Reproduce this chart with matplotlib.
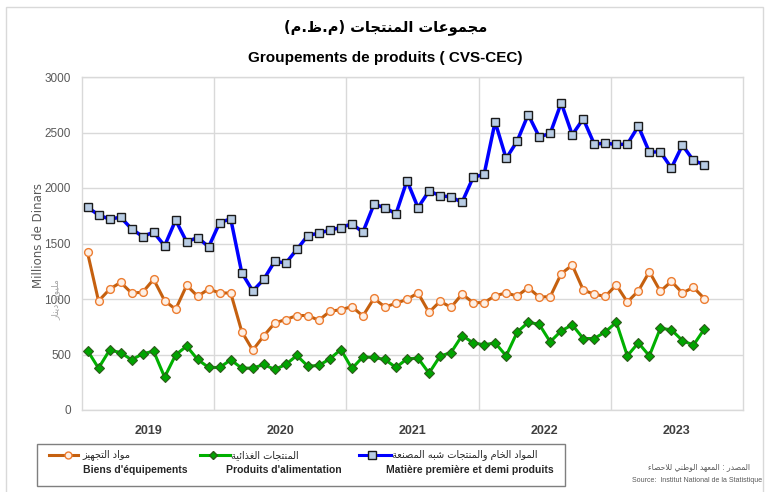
import matplotlib
matplotlib.use('Agg')
import matplotlib.pyplot as plt
from matplotlib.lines import Line2D
from matplotlib.patches import Rectangle

# monthly data, Jan 2019 .. Sep 2023 (millions de dinars)
years = ['2019', '2020', '2021', '2022', '2023']

matiere = [1826, 1758, 1719, 1737, 1632, 1563, 1602, 1479, 1710, 1515, 1554, 1470,
           1689, 1722, 1237, 1072, 1177, 1341, 1323, 1446, 1572, 1593, 1620, 1644,
           1677, 1602, 1853, 1823, 1767, 2066, 1823, 1973, 1931, 1919, 1871, 2096,
           2123, 2596, 2266, 2422, 2662, 2461, 2491, 2767, 2479, 2623, 2395, 2404,
           2392, 2395, 2557, 2323, 2326, 2180, 2386, 2248, 2210]

biens = [1419, 982, 1087, 1150, 1054, 1060, 1177, 985, 907, 1123, 1024, 1090,
         1054, 1054, 707, 539, 668, 784, 815, 851, 851, 808, 889, 904,
         931, 847, 1006, 928, 961, 997, 1054, 880, 979, 925, 1045, 967,
         967, 1030, 1054, 1027, 1102, 1018, 1021, 1228, 1305, 1081, 1042, 1024,
         1126, 973, 1072, 1246, 1069, 1159, 1054, 1105, 1003]

alim = [536, 377, 539, 518, 452, 506, 530, 296, 497, 575, 455, 383,
        383, 452, 377, 377, 410, 365, 410, 491, 395, 401, 461, 545,
        374, 479, 473, 455, 383, 461, 467, 332, 485, 518, 671, 605,
        587, 605, 488, 701, 790, 772, 614, 713, 767, 644, 644, 704,
        790, 488, 605, 488, 737, 722, 626, 584, 731]

title_ar = 'مجموعات المنتجات (م.ظ.م)'
title_fr = 'Groupements de produits ( CVS-CEC)'
lab_ar = ['مواد التجهيز', 'المنتجات الغذائية', 'المواد الخام والمنتجات شبه المصنعة']
lab_fr = ["Biens d'équipements", "Produits d'alimentation", 'Matière première et demi produits']
src_ar = 'المصدر : المعهد الوطني للاحصاء'
src_fr = 'Source:  Institut National de la Statistique'
ylab_ar = 'مليون دينار'

# minimal arabic shaping (presentation forms) + right-to-left order
DUAL = {0x0626: 0xFE89, 0x0628: 0xFE8F, 0x062A: 0xFE95, 0x062B: 0xFE99, 0x062C: 0xFE9D,
        0x062D: 0xFEA1, 0x062E: 0xFEA5, 0x0633: 0xFEB1, 0x0634: 0xFEB5, 0x0635: 0xFEB9,
        0x0636: 0xFEBD, 0x0637: 0xFEC1, 0x0638: 0xFEC5, 0x0639: 0xFEC9, 0x063A: 0xFECD,
        0x0641: 0xFED1, 0x0642: 0xFED5, 0x0643: 0xFED9, 0x0644: 0xFEDD, 0x0645: 0xFEE1,
        0x0646: 0xFEE5, 0x0647: 0xFEE9, 0x064A: 0xFEF1}
RIGHT = {0x0622: 0xFE81, 0x0623: 0xFE83, 0x0624: 0xFE85, 0x0625: 0xFE87, 0x0627: 0xFE8D,
         0x0629: 0xFE93, 0x062F: 0xFEA9, 0x0630: 0xFEAB, 0x0631: 0xFEAD, 0x0632: 0xFEAF,
         0x0648: 0xFEED, 0x0649: 0xFEEF}


def ar(s):
    units = []
    i = 0
    while i < len(s):
        c = s[i]
        if c == 'ل' and i + 1 < len(s) and s[i + 1] == 'ا':
            units.append(('LA', 'R'))
            i += 2
            continue
        t = 'D' if ord(c) in DUAL else ('R' if ord(c) in RIGHT else 'N')
        units.append((c, t))
        i += 1
    out = []
    for k, (c, t) in enumerate(units):
        prev = k > 0 and units[k - 1][1] == 'D' and t in 'DR'
        nxt = t == 'D' and k + 1 < len(units) and units[k + 1][1] in 'DR'
        if c == 'LA':
            out.append(chr(0xFEFC if prev else 0xFEFB))
        elif t == 'D':
            f = 3 if (prev and nxt) else 1 if prev else 2 if nxt else 0
            out.append(chr(DUAL[ord(c)] + f))
        elif t == 'R':
            out.append(chr(RIGHT[ord(c)] + (1 if prev else 0)))
        else:
            out.append(c)
    r = ''.join(reversed(out))
    return r.translate(str.maketrans('()', ')('))


W, H = 766, 492
fig = plt.figure(figsize=(W / 100, H / 100), dpi=100)


def fx(x):
    return x / W


def fy(y):
    return 1 - y / H


ax = fig.add_axes([fx(82), fy(410), fx(743) - fx(82), fy(77) - fy(410)])

lat = ['Liberation Sans', 'DejaVu Sans']
arfont = ['DejaVu Sans']

x = [i + 0.5 for i in range(len(matiere))]

ax.plot(x, biens, color='#c5600f', lw=2.2, marker='o', ms=5.6,
        mfc='#fdf0e6', mec='#ed7d31', mew=1.0, zorder=3)
ax.plot(x, alim, color='#00b000', lw=2.2, marker='D', ms=5.2,
        mfc='#00a400', mec='#2d5a1b', mew=0.8, zorder=3)
ax.plot(x, matiere, color='#0000ff', lw=2.5, marker='s', ms=6.3,
        mfc='#b8cce4', mec='#1a1a1a', mew=1.0, zorder=4)

ax.set_xlim(0, 60)
ax.set_ylim(0, 3000)
ax.set_yticks(range(0, 3001, 500))
ax.set_xticks([6, 18, 30, 42, 54])
ax.set_xticklabels(years, fontweight='bold', fontsize=9, color='#404040', family=lat)
ax.set_xticks([12, 24, 36, 48], minor=True)
ax.tick_params(axis='x', which='both', length=0, pad=11)
ax.tick_params(axis='y', length=0, pad=8, labelsize=8.5, labelcolor='#595959')
for lab in ax.get_yticklabels():
    lab.set_family(lat)
ax.grid(axis='y', which='major', color='#d9d9d9', lw=1)
ax.grid(axis='x', which='minor', color='#d9d9d9', lw=1)
for sp in ax.spines.values():
    sp.set_color('#d9d9d9')
    sp.set_linewidth(1)

# axis labels
fig.text(fx(39), fy(236), 'Millions de Dinars', rotation=90, ha='center', va='center',
         fontsize=8.5, color='#595959')
fig.text(fx(56), fy(300), ar(ylab_ar), rotation=90, ha='center', va='center',
         fontsize=6.5, color='#a6a6a6', family=arfont)

# titles
fig.text(0.503, fy(27), ar(title_ar), ha='center', va='center', fontsize=10.5,
         fontweight='bold', family=arfont, color='black')
fig.text(0.503, fy(58), title_fr, ha='center', va='center', fontsize=11,
         fontweight='bold', family=lat, color='black')

# legend box
fig.add_artist(Rectangle((fx(37), fy(486)), fx(565) - fx(37), fy(444) - fy(486),
                         transform=fig.transFigure, fill=False, ec='#7f7f7f', lw=1))
leg = [
    (49, 78, 68, '#c5600f', 'o', 5.0, '#fdf0e6', '#ed7d31', 82, 83),
    (200, 230, 213, '#00b000', 'D', 4.5, '#00a400', '#2d5a1b', 231, 226),
    (359, 391, 372, '#0000ff', 's', 6.0, '#b8cce4', '#1a1a1a', 392, 386),
]
for k, (x0, x1, xm, col, mk, ms, mfc, mec, xa, xf) in enumerate(leg):
    fig.add_artist(Line2D([fx(x0), fx(x1)], [fy(455), fy(455)], transform=fig.transFigure,
                          color=col, lw=2.2))
    fig.add_artist(Line2D([fx(xm)], [fy(455)], transform=fig.transFigure, marker=mk, ms=ms,
                          mfc=mfc, mec=mec, mew=1.0, lw=0))
    fig.text(fx(xa), fy(455), ar(lab_ar[k]), ha='left', va='center', fontsize=7,
             family=arfont, color='#262626')
    fig.text(fx(xf), fy(470), lab_fr[k], ha='left', va='center', fontsize=7.5,
             fontweight='bold', family=lat, color='#262626')

# source
fig.text(fx(750), fy(467), ar(src_ar), ha='right', va='center', fontsize=5.5,
         family=arfont, color='#595959')
fig.text(fx(762), fy(481), src_fr, ha='right', va='center', fontsize=5,
         family=lat, color='#595959')

# outer frame
fig.add_artist(Rectangle((fx(6), -0.01), fx(763) - fx(6), fy(7) + 0.01,
                         transform=fig.transFigure, fill=False, ec='#d9d9d9', lw=1))

fig.savefig('out.png', dpi=100)
